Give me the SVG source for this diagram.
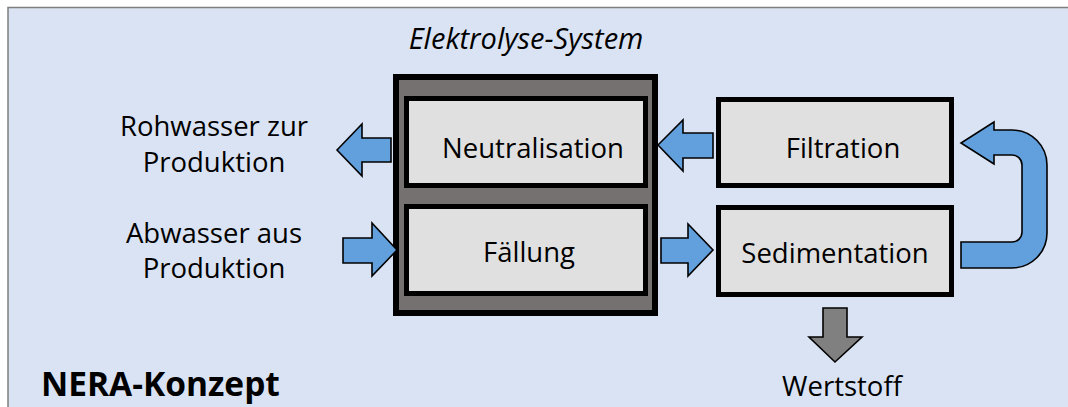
<svg xmlns="http://www.w3.org/2000/svg" width="1068" height="407" viewBox="0 0 1068 407">
  <style>
    .txt { font-family: "Open Sans", "Noto Sans", "Liberation Sans", sans-serif; font-size: 27.5px; fill: #000; text-anchor: middle; }
    .ital { font-style: italic; font-size: 29px; }
    .title { font-weight: bold; font-size: 33.5px; text-anchor: start; }
    .step { fill: #E0E0E0; stroke: #000; stroke-width: 5; }
    .flow { fill: #62A0DD; stroke: #000; stroke-width: 1.6; stroke-linejoin: miter; }
    .out { fill: #808080; stroke: #000; stroke-width: 1.6; }
  </style>

  <!-- panel -->
  <rect x="8" y="7.5" width="1080" height="420" fill="#DAE3F3" stroke="#7F7F7F" stroke-width="1.5"/>

  <text class="txt ital" x="526" y="49">Elektrolyse-System</text>

  <!-- electrolysis housing -->
  <g id="elektrolyse-system">
    <rect x="396" y="77" width="259" height="236" fill="#767171" stroke="#000" stroke-width="6"/>
  </g>

  <g id="neutralisation">
    <rect class="step" x="406.5" y="98.5" width="239" height="87"/>
    <text class="txt" x="533" y="158">Neutralisation</text>
  </g>

  <g id="faellung">
    <rect class="step" x="406.5" y="206.5" width="239" height="87"/>
    <text class="txt" x="529" y="262">Fällung</text>
  </g>

  <g id="filtration">
    <rect class="step" x="718.5" y="99.5" width="233" height="86"/>
    <text class="txt" x="843" y="158">Filtration</text>
  </g>

  <g id="sedimentation">
    <rect class="step" x="718.5" y="207.5" width="233" height="87"/>
    <text class="txt" x="835" y="263">Sedimentation</text>
  </g>

  <g id="rohwasser">
    <text class="txt" x="214" y="136">Rohwasser zur</text>
    <text class="txt" x="214" y="172">Produktion</text>
  </g>

  <g id="abwasser">
    <text class="txt" x="214" y="243">Abwasser aus</text>
    <text class="txt" x="214" y="278">Produktion</text>
  </g>

  <g id="wertstoff">
    <text class="txt" x="842" y="396">Wertstoff</text>
  </g>

  <text class="txt title" x="41" y="396">NERA-Konzept</text>

  <!-- connectors -->
  <g id="connectors">
    <!-- Neutralisation -> Rohwasser -->
    <polygon class="flow" points="337,150 362,124 362,138 391,138 391,162 362,162 362,176"/>
    <!-- Abwasser -> Fällung -->
    <polygon class="flow" points="343,238 372,238 372,223 397,250 372,276 372,263 343,263"/>
    <!-- Filtration -> Neutralisation -->
    <polygon class="flow" points="658,145 683,120 683,133 713,133 713,158 683,158 683,171"/>
    <!-- Fällung -> Sedimentation -->
    <polygon class="flow" points="661,238 688,238 688,224 713,250 688,276 688,263 661,263"/>
    <!-- Sedimentation -> Filtration (return loop) -->
    <path class="flow" d="M961,268 L1012,268 A35,35 0 0 0 1047,233 L1047,165 A35,35 0 0 0 1012,130 L994,130 L994,122 L961,143 L994,164 L994,155 L1012,155 A10,10 0 0 1 1022,165 L1022,232 A10,10 0 0 1 1012,242 L961,242 Z"/>
    <!-- Sedimentation -> Wertstoff -->
    <polygon class="out" points="823,308 847,308 847,337 862,337 835,362 809,337 823,337"/>
  </g>
</svg>
